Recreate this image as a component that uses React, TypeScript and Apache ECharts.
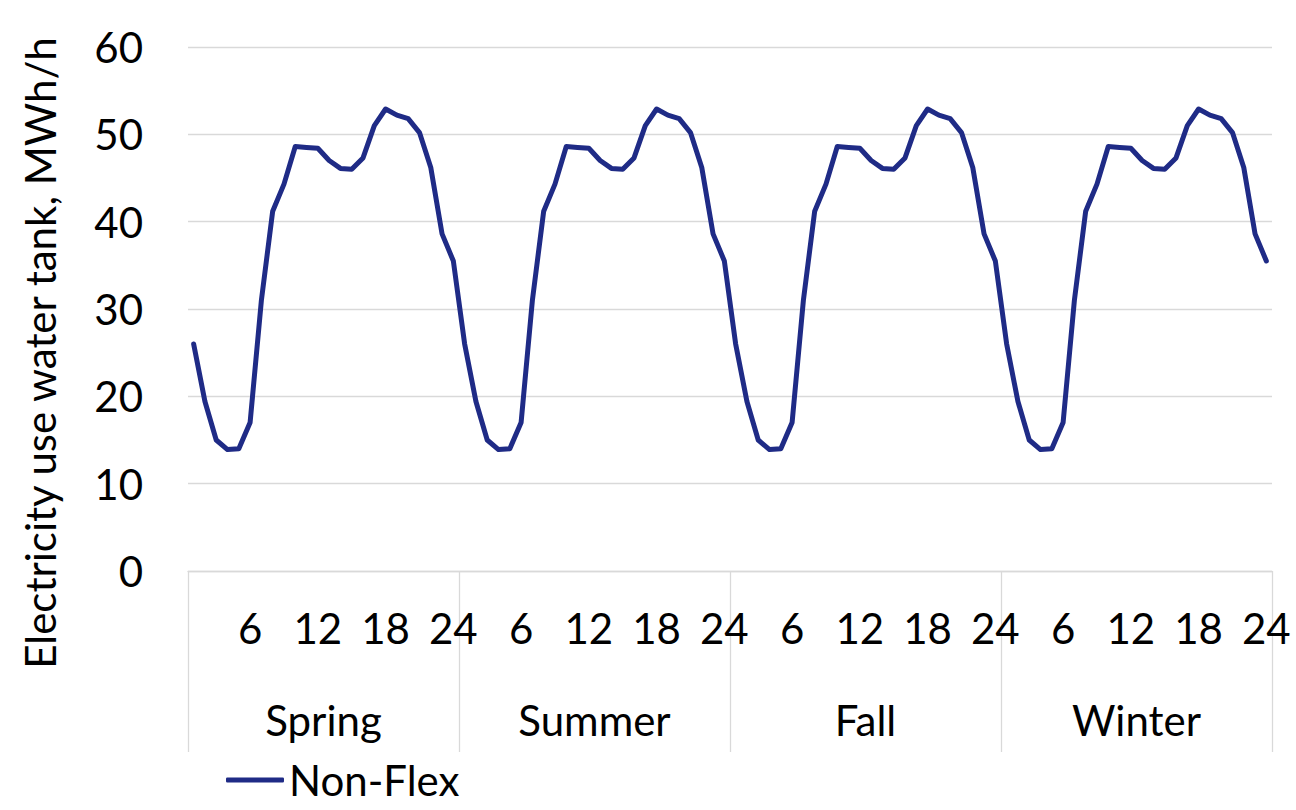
import React, { useEffect, useRef } from "react";
import * as echarts from "echarts";

const hours: string[] = ["1","2","3","4","5","6","7","8","9","10","11","12","13","14","15","16","17","18","19","20","21","22","23","24"];
const seasons: string[] = ["Spring", "Summer", "Fall", "Winter"];

const spring: number[] = [26.0, 19.4, 15.0, 13.9, 14.0, 17.0, 31.0, 41.2, 44.3, 48.6, 48.5, 48.4, 47.0, 46.1, 46.0, 47.3, 51.0, 52.9, 52.2, 51.8, 50.2, 46.2, 38.6, 35.5];
const summer: number[] = [26.0, 19.4, 15.0, 13.9, 14.0, 17.0, 31.0, 41.2, 44.3, 48.6, 48.5, 48.4, 47.0, 46.1, 46.0, 47.3, 51.0, 52.9, 52.2, 51.8, 50.2, 46.2, 38.6, 35.5];
const fall: number[] = [26.0, 19.4, 15.0, 13.9, 14.0, 17.0, 31.0, 41.2, 44.3, 48.6, 48.5, 48.4, 47.0, 46.1, 46.0, 47.3, 51.0, 52.9, 52.2, 51.8, 50.2, 46.2, 38.6, 35.5];
const winter: number[] = [26.0, 19.4, 15.0, 13.9, 14.0, 17.0, 31.0, 41.2, 44.3, 48.6, 48.5, 48.4, 47.0, 46.1, 46.0, 47.3, 51.0, 52.9, 52.2, 51.8, 50.2, 46.2, 38.6, 35.5];

const shownHours: string[] = ["6", "12", "18", "24"];
const yTicks = { min: 0, max: 60, interval: 10 };
const seriesName = "Non-Flex";
const yTitle = "Electricity use water tank, MWh/h";

const FONT = "Lato";
const FS = 42;
const GRID_COLOR = "#d9d9d9";
const LINE_COLOR = "#1f2b86";

export default function App() {
  const ref = useRef<HTMLDivElement>(null);
  useEffect(() => {
    if (!ref.current) return;
    const chart = echarts.init(ref.current, undefined, { renderer: "svg" });
    const categories: string[] = [];
    seasons.forEach((s) => hours.forEach((h) => categories.push(s + "-" + h)));
    const values = [...spring, ...summer, ...fall, ...winter];

    chart.setOption({
      animation: false,
      backgroundColor: "#ffffff",
      grid: { left: 188, right: 24, top: 47, bottom: 239, containLabel: false },
      legend: {
        show: true,
        left: 226,
        top: 759,
        padding: 0,
        itemWidth: 58,
        itemHeight: 5,
        data: [{ name: seriesName, icon: "roundRect" }],
        textStyle: { fontFamily: FONT, fontSize: FS, color: "#000" },
      },
      xAxis: [
        {
          type: "category",
          data: categories,
          boundaryGap: true,
          position: "bottom",
          axisLine: { show: false },
          axisTick: { show: false },
          splitLine: { show: false },
          axisLabel: {
            interval: 0,
            margin: 36,
            fontFamily: FONT,
            fontSize: FS,
            color: "#000",
            formatter: (v: string) => {
              const h = v.split("-")[1];
              return shownHours.includes(h) ? h : "";
            },
          },
        },
        {
          type: "category",
          data: seasons,
          boundaryGap: true,
          position: "bottom",
          offset: 0,
          axisLine: { show: true, lineStyle: { color: GRID_COLOR, width: 1.3 } },
          axisTick: { show: true, length: 181, lineStyle: { color: GRID_COLOR, width: 1.3 } },
          splitLine: { show: false },
          axisLabel: {
            interval: 0,
            margin: 128,
            fontFamily: FONT,
            fontSize: FS,
            color: "#000",
          },
        },
      ],
      yAxis: {
        type: "value",
        min: yTicks.min,
        max: yTicks.max,
        interval: yTicks.interval,
        axisLine: { show: false },
        axisTick: { show: false },
        splitLine: { show: true, lineStyle: { color: GRID_COLOR, width: 1.3 } },
        axisLabel: { margin: 45, fontFamily: FONT, fontSize: FS, color: "#000" },
      },
      graphic: [
        {
          type: "text",
          x: 40,
          y: 353,
          rotation: Math.PI / 2,
          style: {
            text: yTitle,
            fontFamily: FONT,
            fontSize: FS,
            fill: "#000",
            align: "center",
            verticalAlign: "middle",
          },
        },
      ],
      series: [
        {
          name: seriesName,
          type: "line",
          xAxisIndex: 0,
          data: values,
          showSymbol: false,
          symbol: "none",
          lineStyle: { color: LINE_COLOR, width: 5, cap: "round", join: "round" },
          itemStyle: { color: LINE_COLOR },
        },
      ],
    });
    return () => chart.dispose();
  }, []);

  return (
    <div
      ref={ref}
      style={{ position: "fixed", left: 0, top: 0, width: 1296, height: 810, background: "#fff" }}
    />
  );
}
